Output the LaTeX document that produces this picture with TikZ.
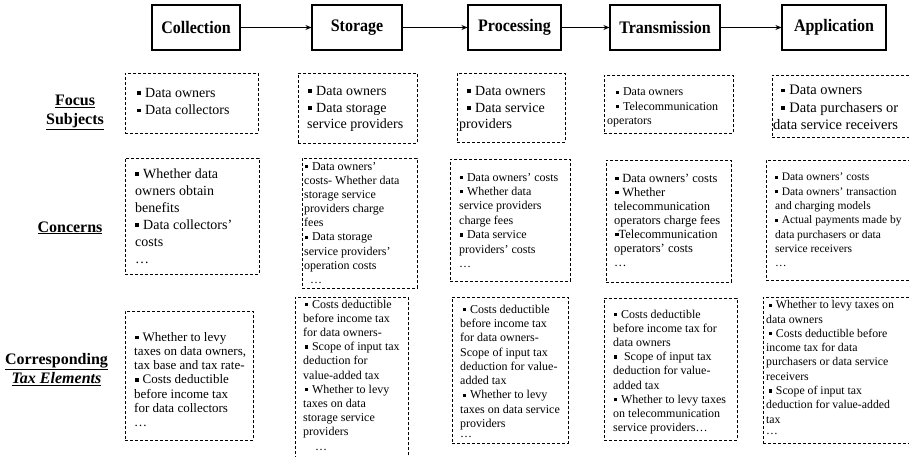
\documentclass[tikz,border=0pt]{standalone}
\usepackage{fontspec}
\setmainfont{Liberation Serif}
\usetikzlibrary{arrows.meta}
\newcommand{\fsz}[2]{\fontsize{#1}{#2}\selectfont}
\newcommand{\sqb}[1][0]{\hspace*{#1pt}\raisebox{0.17em}{\rule{0.27em}{0.27em}}\hspace{0.3em}}
\newcommand{\tallb}[1]{\scalebox{1}[1.1]{#1}}
\begin{document}
\begin{tikzpicture}[x=1pt,y=-1pt,
  hdr/.style={draw, line width=1.1pt, minimum height=45pt, inner sep=0pt,
    font=\bfseries\fsz{16}{19}},
  dbox/.style={draw, dash pattern=on 3pt off 2pt, line width=0.9pt,
    anchor=north west, inner sep=0pt},
  txt/.style={anchor=north west, inner sep=0pt, align=left},
  lbl/.style={inner sep=0pt, align=center, font=\bfseries\fsz{16}{19.3}},
  flow/.style={-{Stealth[length=6pt,width=5pt]}, line width=0.9pt}]
\useasboundingbox (0,0) rectangle (909,457);
\clip (0,0) rectangle (909,457);
\fill[white] (0,0) rectangle (909,457);

% stage headers
\node[hdr, minimum width=88pt]  (h1) at (196,27.5)   {\tallb{Collection}};
\node[hdr, minimum width=90pt]  (h2) at (357,27.5)   {\tallb{Storage}};
\node[hdr, minimum width=93pt]  (h3) at (514.5,27.5) {\tallb{Processing}};
\node[hdr, minimum width=110pt] (h4) at (665,27.5)   {\tallb{Transmission}};
\node[hdr, minimum width=104pt] (h5) at (834,27.5)   {\tallb{Application}};
\draw[flow] (h1) -- (h2);
\draw[flow] (h2) -- (h3);
\draw[flow] (h3) -- (h4);
\draw[flow] (h4) -- (h5);

% row labels
\node[lbl, anchor=north] (l1) at (75,94.5) {\underline{Focus}\\\underline{Subjects}};
\node[lbl, anchor=base]  (l2) at (70,232) {\underline{Concerns}};
\node[lbl, anchor=north] (l3) at (56.5,352.8) {\underline{Corresponding}\\\underline{\textit{Tax Elements}}};

% Focus subjects row
\node[dbox, minimum width=133pt, minimum height=60pt] (fC) at (125,73) {};
\node[dbox, minimum width=119pt, minimum height=70pt] (fS) at (298,73) {};
\node[dbox, minimum width=108pt, minimum height=69pt] (fP) at (457,73) {};
\node[dbox, minimum width=129pt, minimum height=58pt] (fT) at (604,75) {};
\node[dbox, minimum width=150pt, minimum height=62pt] (fA) at (772,75) {};

\node[txt, font=\fsz{14}{17.4}] (fCt) at (137,88) {\sqb Data owners\\\sqb Data collectors};
\node[txt, font=\fsz{14}{16.7}] (fSt) at (307,86) {\sqb[1]Data owners\\\sqb[1]Data storage\\service providers};
\node[txt, font=\fsz{14}{16.7}] (fPt) at (459,86) {\sqb[8]Data owners\\\sqb[8]Data service\\providers};
\node[txt, font=\fsz{12}{14.5}] (fTt) at (607,87.9) {\sqb[9]Data owners\\\sqb[9]Telecommunication\\operators};
\node[txt, font=\fsz{14.5}{17.2}] (fAt) at (773,85.2) {\sqb[8]Data owners\\\sqb[8]Data purchasers or\\data service receivers};

% Concerns row
\node[dbox, minimum width=134pt, minimum height=116pt] (cC) at (125,158) {};
\node[dbox, minimum width=115pt, minimum height=130pt] (cS) at (302,158) {};
\node[dbox, minimum width=120pt, minimum height=122pt] (cP) at (450,159) {};
\node[dbox, minimum width=125pt, minimum height=122pt] (cT) at (606,160) {};
\node[dbox, minimum width=150pt, minimum height=120pt] (cA) at (766,160) {};

\node[txt, font=\fsz{14}{17}] (cCt) at (135,168.7) {\sqb Whether data\\owners obtain\\benefits\\\sqb Data collectors'\\costs\\…};
\node[txt, font=\fsz{12}{14.1}] (cSt) at (304,162.3) {\sqb[1]Data owners'\\costs- Whether data\\storage service\\providers charge\\fees\\\sqb[1]Data storage\\service providers'\\operation costs\\\hspace*{6pt}…};
\node[txt, font=\fsz{12}{14.4}] (cPt) at (459,172.9) {\sqb[1]Data owners' costs\\\sqb[1]Whether data\\service providers\\charge fees\\\sqb[1]Data service\\providers' costs\\…};
\node[txt, font=\fsz{12.5}{14}] (cTt) at (614,173.7) {\sqb[1]Data owners' costs\\\sqb[1]Whether\\telecommunication\\operators charge fees\\\sqb[1]\hspace{-0.3em}Telecommunication\\operators' costs\\…};
\node[txt, font=\fsz{11.5}{14.3}] (cAt) at (775,173.1) {\sqb Data owners' costs\\\sqb Data owners' transaction\\and charging models\\\sqb Actual payments made by\\data purchasers or data\\service receivers\\…};

% Tax elements row
\node[dbox, minimum width=128pt, minimum height=129pt] (tC) at (125,311) {};
\node[dbox, minimum width=113pt, minimum height=170pt] (tS) at (295,297) {};
\node[dbox, minimum width=116pt, minimum height=146pt] (tP) at (452,297) {};
\node[dbox, minimum width=133pt, minimum height=142pt] (tT) at (604,298) {};
\node[dbox, minimum width=150pt, minimum height=146pt] (tA) at (763,297) {};

\node[txt, font=\fsz{13}{14.2}] (tCt) at (134,332.1) {\sqb[1]Whether to levy\\taxes on data owners,\\tax base and tax rate-\\\sqb[1]Costs deductible\\before income tax\\for data collectors\\…};
\node[txt, font=\fsz{12}{14.2}] (tSt) at (303,299.6) {\sqb[2]Costs deductible\\before income tax\\for data owners-\\\sqb[2]Scope of input tax\\deduction for\\value-added tax\\\sqb[2]Whether to levy\\taxes on data\\storage service\\providers\\\hspace*{12pt}…};
\node[txt, font=\fsz{12}{14.3}] (tPt) at (460,304.6) {\sqb[3]Costs deductible\\before income tax\\for data owners-\\Scope of input tax\\deduction for value-\\added tax\\\sqb[3]Whether to levy\\taxes on data service\\providers\\[-4pt]…};
\node[txt, font=\fsz{12}{14.2}] (tTt) at (613,309.6) {\sqb[1]Costs deductible\\before income tax for\\data owners\\\sqb[1]\hspace{0.25em}Scope of input tax\\deduction for value-\\added tax\\\sqb[1]Whether to levy taxes\\on telecommunication\\service providers…};
\node[txt, font=\fsz{11.8}{14.3}] (tAt) at (766,300.4) {\sqb[3]Whether to levy taxes on\\data owners\\\sqb[3]Costs deductible before\\income tax for data\\purchasers or data service\\receivers\\\sqb[3]Scope of input tax\\deduction for value-added\\tax\\[-3pt]…};
\end{tikzpicture}
\end{document}
